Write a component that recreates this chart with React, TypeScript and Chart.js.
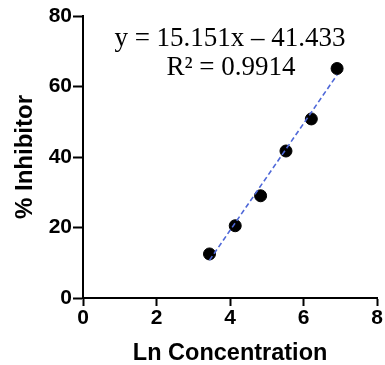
import React, { useEffect, useRef } from "react";
import { Chart, registerables } from "chart.js";

Chart.register(...registerables);

const lnConcentration = [3.44, 4.14, 4.83, 5.52, 6.21, 6.91];
const inhibitor = [12.5, 20.5, 29.0, 41.7, 50.8, 65.1];
const trendX = [3.44, 6.91];
const trendY = [10.7, 63.3];
const xTicks = [0, 2, 4, 6, 8];
const yTicks = [0, 20, 40, 60, 80];
const equationLines = ["y = 15.151x \u2013 41.433", "R\u00b2 = 0.9914"];

const SANS = "'Liberation Sans', Arial, sans-serif";
const SERIF = "'Liberation Serif', 'Times New Roman', serif";

const equationPlugin = {
  id: "equationText",
  afterDatasetsDraw(chart: any) {
    const ctx = chart.ctx;
    ctx.save();
    ctx.font = `27px ${SERIF}`;
    ctx.fillStyle = "#000";
    ctx.textAlign = "center";
    ctx.textBaseline = "alphabetic";
    ctx.fillText(equationLines[0], 230, 46);
    ctx.fillText(equationLines[1], 231, 75);
    ctx.restore();
  },
};

export default function App() {
  const ref = useRef<HTMLCanvasElement>(null);

  useEffect(() => {
    if (!ref.current) return;
    const chart = new Chart(ref.current, {
      type: "scatter",
      data: {
        datasets: [
          {
            type: "line",
            data: trendX.map((x, i) => ({ x, y: trendY[i] })),
            borderColor: "#4f68d8",
            borderWidth: 1.6,
            borderDash: [5, 3],
            pointRadius: 0,
            fill: false,
          } as any,
          {
            data: lnConcentration.map((x, i) => ({ x, y: inhibitor[i] })),
            backgroundColor: "#000",
            borderColor: "#000",
            pointRadius: 6,
            pointHoverRadius: 6,
          },
        ],
      },
      options: {
        responsive: false,
        animation: false,
        events: [],
        layout: { padding: { top: 16, right: 7, left: 0, bottom: 0 } },
        plugins: {
          legend: { display: false },
          tooltip: { enabled: false },
        },
        scales: {
          x: {
            type: "linear",
            min: 0,
            max: 8,
            afterBuildTicks: (s: any) => {
              s.ticks = xTicks.map((v) => ({ value: v }));
            },
            afterFit: (s: any) => {
              s.height = 67;
            },
            border: { color: "#000", width: 2 },
            grid: {
              drawOnChartArea: false,
              drawTicks: true,
              tickLength: 8,
              tickColor: "#000",
              tickWidth: 2,
            },
            ticks: {
              color: "#000",
              padding: 2,
              font: { family: SANS, size: 21, weight: "bold", lineHeight: 1 },
            },
            title: {
              display: true,
              text: "Ln Concentration",
              color: "#000",
              padding: { top: 0, bottom: 0 },
              font: { family: SANS, size: 23.5, weight: "bold", lineHeight: 1 },
            },
          },
          y: {
            type: "linear",
            min: 0,
            max: 80,
            afterBuildTicks: (s: any) => {
              s.ticks = yTicks.map((v) => ({ value: v }));
            },
            afterFit: (s: any) => {
              s.width = 83;
            },
            border: { color: "#000", width: 2 },
            grid: {
              drawOnChartArea: false,
              drawTicks: true,
              tickLength: 10,
              tickColor: "#000",
              tickWidth: 2,
            },
            ticks: {
              color: "#000",
              padding: 1,
              font: { family: SANS, size: 21, weight: "bold", lineHeight: 1 },
            },
            title: {
              display: true,
              text: "% Inhibitor",
              color: "#000",
              padding: { top: 13, bottom: 0 },
              font: { family: SANS, size: 24, weight: "bold", lineHeight: 1 },
            },
          },
        },
      },
      plugins: [equationPlugin],
    });
    return () => chart.destroy();
  }, []);

  return (
    <div
      style={{
        position: "fixed",
        left: 0,
        top: 0,
        width: 385,
        height: 365,
        background: "#fff",
      }}
    >
      <canvas ref={ref} width={385} height={365} />
    </div>
  );
}
